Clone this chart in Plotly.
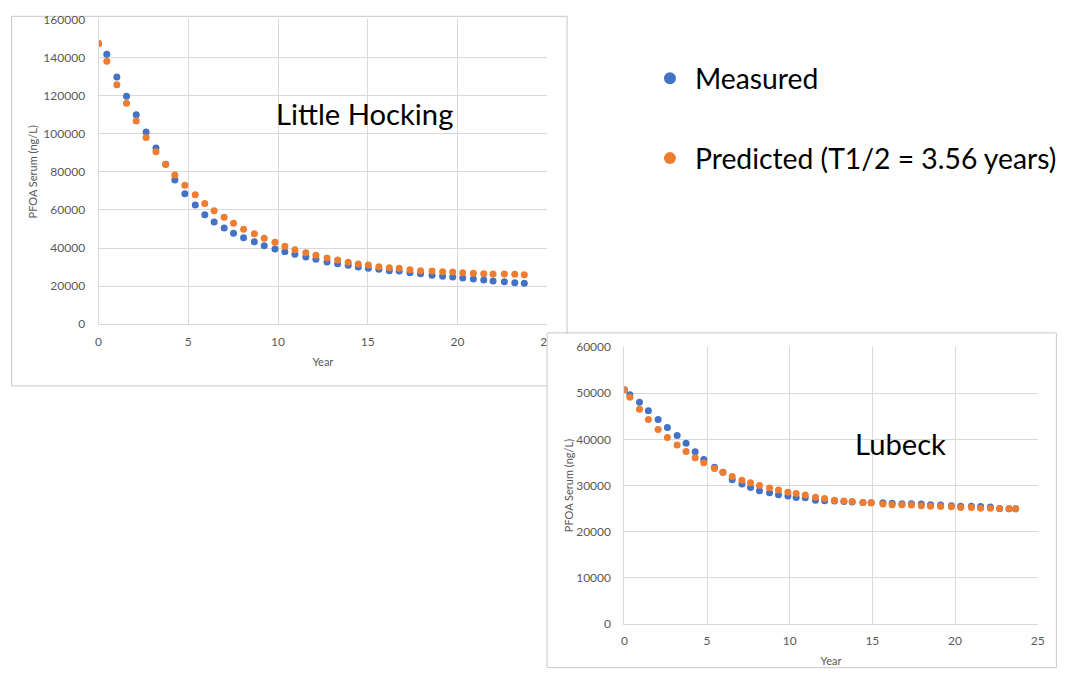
import plotly.graph_objects as go

# ---------------- data ----------------
lh_years = [0, 0.46, 1.02, 1.56, 2.10, 2.65, 3.20, 3.74, 4.25, 4.81, 5.39, 5.92, 6.44, 7.00,
            7.52, 8.08, 8.68, 9.23, 9.83, 10.38, 10.94, 11.55, 12.11, 12.73, 13.32, 13.91,
            14.47, 15.03, 15.62, 16.20, 16.75, 17.35, 17.94, 18.58, 19.17, 19.73, 20.29,
            20.88, 21.46, 21.98, 22.61, 23.19, 23.72]
lh_measured = [147400, 141640, 129730, 119610, 109960, 100880, 92490, 83940, 75700, 68510,
               62590, 57500, 53670, 50520, 47740, 45430, 43330, 41230, 39500, 38090, 36720,
               35310, 34100, 32680, 31790, 30950, 30060, 29380, 28850, 28120, 27960, 27070,
               26500, 25700, 25180, 24810, 24290, 23760, 23240, 22720, 22350, 21820, 21510]
lh_predicted = [147400, 137970, 125690, 115940, 106650, 98000, 90550, 83940, 78320, 73000,
                67900, 63400, 59590, 56100, 52980, 49900, 47530, 45120, 43020, 40920, 39140,
                37500, 36200, 34780, 33730, 32530, 31630, 31110, 30220, 29690, 29380, 28640,
                28000, 27960, 27590, 27440, 27070, 26750, 26540, 26390, 26390, 26230, 26020]

lu_years = [0, 0.33, 0.91, 1.45, 2.04, 2.60, 3.19, 3.73, 4.28, 4.80, 5.45, 5.96, 6.52, 7.11,
            7.63, 8.17, 8.78, 9.32, 9.89, 10.39, 10.94, 11.56, 12.11, 12.71, 13.28, 13.78,
            14.43, 14.93, 15.64, 16.20, 16.79, 17.36, 17.96, 18.52, 19.13, 19.78, 20.34,
            20.99, 21.55, 22.14, 22.70, 23.27, 23.67]
lu_measured = [50700, 49620, 48040, 46160, 44280, 42540, 40810, 39170, 37290, 35620, 33970,
               32850, 31230, 30300, 29560, 28850, 28410, 27980, 27700, 27400, 27330, 26830,
               26680, 26650, 26550, 26450, 26300, 26250, 26250, 26180, 26030, 26030, 25970,
               25820, 25750, 25600, 25530, 25530, 25450, 25320, 25020, 24950, 24950]
lu_predicted = [50700, 49120, 46530, 44280, 42110, 40380, 38740, 37350, 35990, 34910, 33670,
                32850, 31940, 31160, 30580, 29990, 29430, 29000, 28560, 28260, 27920, 27480,
                27180, 26830, 26620, 26530, 26310, 26250, 25970, 25820, 25820, 25750, 25600,
                25530, 25450, 25380, 25230, 25230, 25100, 25100, 25020, 24950, 24950]

series_names = ["Measured", "Predicted (T1/2 = 3.56 years)"]
chart_titles = ["Little Hocking", "Lubeck"]
y_title = "PFOA Serum (ng/L)"
x_title = "Year"

# ---------------- style ----------------
PAGE_W, PAGE_H = 1075, 683
BODY_MARGIN = 8                      # default page margin around the plot div
W, H = PAGE_W - 2 * BODY_MARGIN, PAGE_H - 2 * BODY_MARGIN
BLUE = "#4472C4"
ORANGE = "#ED7D31"
GRID = "#D9D9D9"
FRAME = "#C8C8C8"
TXT = "#595959"
FONT = "Lato"

# measured correction between page pixels and captured pixels
AX, BX = 0.990, 2.3
AY, BY = 0.978, 7.1

def page_x(t):
    return (t - BX) / AX

def page_y(t):
    return (t - BY) / AY

def px(t):
    return (page_x(t) - BODY_MARGIN) / W

def py(t):
    return 1 - (page_y(t) - BODY_MARGIN) / H

def clip(v):
    return min(max(v, 0.0005), 0.9995)

fig = go.Figure()

fig.add_trace(go.Scatter(x=lh_years, y=lh_measured, mode="markers", name=series_names[0],
                         legendgroup="m", marker=dict(color=BLUE, size=7),
                         xaxis="x", yaxis="y"))
fig.add_trace(go.Scatter(x=lh_years, y=lh_predicted, mode="markers", name=series_names[1],
                         legendgroup="p", marker=dict(color=ORANGE, size=7),
                         xaxis="x", yaxis="y"))
fig.add_trace(go.Scatter(x=lu_years, y=lu_measured, mode="markers", name=series_names[0],
                         legendgroup="m", showlegend=False, marker=dict(color=BLUE, size=7),
                         xaxis="x2", yaxis="y2"))
fig.add_trace(go.Scatter(x=lu_years, y=lu_predicted, mode="markers", name=series_names[1],
                         legendgroup="p", showlegend=False, marker=dict(color=ORANGE, size=7),
                         xaxis="x2", yaxis="y2"))

axis_common = dict(showgrid=True, gridcolor=GRID, gridwidth=1, zeroline=False,
                   showline=True, linecolor=GRID, linewidth=1, tickformat="d",
                   tickfont=dict(family=FONT, size=12, color=TXT), ticks="", fixedrange=True)

fig.update_layout(
    width=W, height=H,
    margin=dict(l=0, r=0, t=0, b=0),
    paper_bgcolor="white", plot_bgcolor="white",
    font=dict(family=FONT, color=TXT),
    xaxis=dict(domain=[px(97.7), px(546.2)], range=[0, 25], tickvals=[0, 5, 10, 15, 20, 25],
               anchor="y", ticklabelstandoff=6,
               title=dict(text=x_title, font=dict(family=FONT, size=11, color=TXT), standoff=10),
               **axis_common),
    yaxis=dict(domain=[py(323.3), py(18.3)], range=[0, 160000], dtick=20000, anchor="x",
               ticklabelstandoff=10,
               title=dict(text=y_title, font=dict(family=FONT, size=11, color=TXT), standoff=3),
               **axis_common),
    xaxis2=dict(domain=[px(623.3), px(1036.3)], range=[0, 25], tickvals=[0, 5, 10, 15, 20, 25],
                anchor="y2", ticklabelstandoff=6,
                title=dict(text=x_title, font=dict(family=FONT, size=11, color=TXT), standoff=9),
                **axis_common),
    yaxis2=dict(domain=[py(623.3), py(346)], range=[0, 60000], dtick=10000, anchor="x2",
                ticklabelstandoff=10,
                title=dict(text=y_title, font=dict(family=FONT, size=11, color=TXT), standoff=0),
                **axis_common),
    legend=dict(x=(648 - BODY_MARGIN) / W, y=1 - (46.3 - BODY_MARGIN) / H,
                xanchor="left", yanchor="top",
                font=dict(family=FONT, size=28.3, color="#000000"),
                itemsizing="constant", itemwidth=40, traceorder="grouped", tracegroupgap=40,
                bgcolor="rgba(0,0,0,0)", borderwidth=0),
    showlegend=True,
)

# chart frames
fig.add_shape(type="rect", xref="paper", yref="paper",
              x0=clip(px(7)), x1=px(566), y0=py(385), y1=clip(py(4)),
              line=dict(color=FRAME, width=1), fillcolor="rgba(0,0,0,0)", layer="below")
# second frame sits on top of the first one
fig.add_shape(type="rect", xref="paper", yref="paper", x0=px(547), x1=px(569), y0=py(389), y1=py(333),
              line=dict(width=0), fillcolor="white", layer="above")
fig.add_shape(type="rect", xref="paper", yref="paper",
              x0=px(546), x1=clip(px(1055)), y0=clip(py(679)), y1=py(332),
              line=dict(color=FRAME, width=1), fillcolor="rgba(0,0,0,0)", layer="above")

fig.add_annotation(text=chart_titles[0], xref="paper", yref="paper", x=px(364), y=py(112),
                   xanchor="center", yanchor="middle", showarrow=False,
                   font=dict(family=FONT, size=29.2, color="#000000"))
fig.add_annotation(text=chart_titles[1], xref="paper", yref="paper", x=px(899), y=py(443),
                   xanchor="center", yanchor="middle", showarrow=False,
                   font=dict(family=FONT, size=29.2, color="#000000"))

fig.write_html("out.html", config={"displayModeBar": False})
